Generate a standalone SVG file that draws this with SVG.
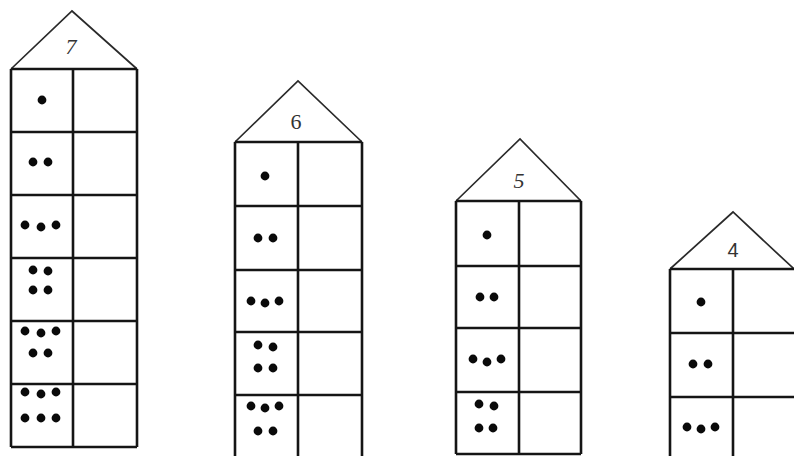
<svg xmlns="http://www.w3.org/2000/svg" width="794" height="456" viewBox="0 0 794 456">
<style>
.roof{fill:none;stroke:#2a2a2a;stroke-width:1.7;stroke-linejoin:miter}
.grid{fill:none;stroke:#151515;stroke-width:2.6}
.num{font-family:"Liberation Serif",serif;font-size:22px;fill:#333;text-anchor:middle}
.d{fill:#0a0a0a}
</style>
<defs>
<circle id="dot" r="4.4" class="d"/>
</defs>
<rect width="794" height="456" fill="#fff"/>

<g id="house7">
<path class="roof" d="M11 69 L72 11 L137 69"/>
<path class="grid" d="M11 69 H137 M11 132 H137 M11 195 H137 M11 258 H137 M11 321 H137 M11 384 H137 M11 447 H137 M11 69 V447 M137 69 V447 M73 69 V447"/>
<text class="num" x="71" y="54" font-style="italic">7</text>
<use href="#dot" x="42" y="100"/>
<use href="#dot" x="33" y="162"/><use href="#dot" x="48" y="162"/>
<use href="#dot" x="25" y="225"/><use href="#dot" x="41" y="227"/><use href="#dot" x="56" y="225"/>
<use href="#dot" x="33" y="270"/><use href="#dot" x="48" y="271"/><use href="#dot" x="33" y="290"/><use href="#dot" x="48" y="290"/>
<use href="#dot" x="25" y="331"/><use href="#dot" x="41" y="333"/><use href="#dot" x="56" y="331"/><use href="#dot" x="33" y="353"/><use href="#dot" x="48" y="353"/>
<use href="#dot" x="25" y="392"/><use href="#dot" x="41" y="394"/><use href="#dot" x="56" y="392"/><use href="#dot" x="25" y="418"/><use href="#dot" x="41" y="418"/><use href="#dot" x="56" y="418"/>
</g>

<g id="house6">
<path class="roof" d="M235 142 L298 81 L362 142"/>
<path class="grid" d="M235 142 H362 M235 206 H362 M235 270 H362 M235 332 H362 M235 395 H362 M235 142 V458 M362 142 V458 M298 142 V458"/>
<text class="num" x="296" y="129">6</text>
<use href="#dot" x="265" y="176"/>
<use href="#dot" x="258" y="238"/><use href="#dot" x="273" y="238"/>
<use href="#dot" x="251" y="301"/><use href="#dot" x="265" y="303"/><use href="#dot" x="279" y="301"/>
<use href="#dot" x="258" y="345"/><use href="#dot" x="273" y="347"/><use href="#dot" x="258" y="368"/><use href="#dot" x="273" y="368"/>
<use href="#dot" x="251" y="406"/><use href="#dot" x="265" y="408"/><use href="#dot" x="279" y="406"/><use href="#dot" x="258" y="431"/><use href="#dot" x="273" y="431"/>
</g>

<g id="house5">
<path class="roof" d="M456 201 L520 139 L581 201"/>
<path class="grid" d="M456 201 H581 M456 266 H581 M456 328 H581 M456 392 H581 M456 454 H581 M456 201 V454 M581 201 V454 M519 201 V454"/>
<text class="num" x="519" y="188" font-style="italic">5</text>
<use href="#dot" x="487" y="235"/>
<use href="#dot" x="480" y="297"/><use href="#dot" x="494" y="297"/>
<use href="#dot" x="473" y="359"/><use href="#dot" x="487" y="362"/><use href="#dot" x="501" y="359"/>
<use href="#dot" x="479" y="404"/><use href="#dot" x="494" y="406"/><use href="#dot" x="479" y="428"/><use href="#dot" x="493" y="428"/>
</g>

<g id="house4">
<path class="roof" d="M670 269 L733 212 L794 269"/>
<path class="grid" d="M670 269 H794 M670 333 H794 M670 397 H794 M670 269 V458 M733 269 V458"/>
<text class="num" x="733" y="257" style="font-family:'Liberation Sans',sans-serif;font-size:20px">4</text>
<use href="#dot" x="701" y="302"/>
<use href="#dot" x="693" y="364"/><use href="#dot" x="708" y="364"/>
<use href="#dot" x="687" y="427"/><use href="#dot" x="701" y="429"/><use href="#dot" x="715" y="427"/>
</g>
</svg>
